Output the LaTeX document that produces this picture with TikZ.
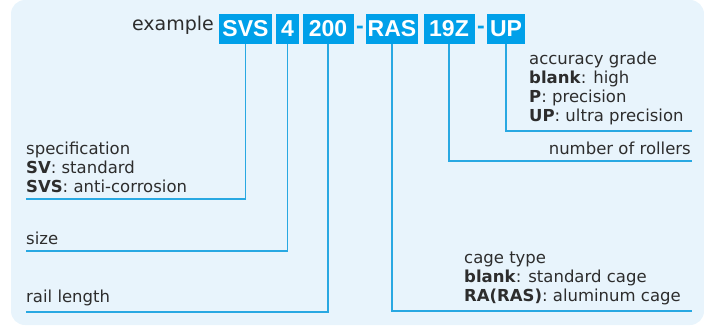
\documentclass[tikz,border=0pt]{standalone}
\usepackage{fontspec}
\setmainfont{DejaVu Sans}
\newfontfamily\codefont{Liberation Sans}
\usetikzlibrary{positioning}

\definecolor{codeblue}{RGB}{0,160,233}
\definecolor{leadblue}{RGB}{40,168,226}
\definecolor{panel}{RGB}{232,244,252}
\definecolor{ink}{RGB}{45,45,45}

\tikzset{
  code/.style={fill=codeblue,text=white,font=\codefont\bfseries\fontsize{23}{23}\selectfont,
    minimum height=30pt,inner sep=0pt},
  hyph/.style={text=codeblue,font=\codefont\bfseries\fontsize{23}{23}\selectfont,inner sep=0pt},
  lead/.style={draw=leadblue,line width=1.3pt},
  note/.style={text=ink,font=\fontsize{16.5}{19}\selectfont,align=left,inner sep=0pt}
}

\begin{document}
\begin{tikzpicture}[x=1pt,y=-1pt]
  \useasboundingbox (0,0) rectangle (704,326);
  \fill[panel,rounded corners=14pt] (11,0) rectangle (704,325);

  % part number
  \node[text=ink,font=\fontsize{19}{19}\selectfont,anchor=base east,inner sep=0pt] (ex) at (214,31) {example};
  \node[code,minimum width=53pt] (svs) at (245.5,29) {SVS};
  \node[code,minimum width=23pt] (four) at (287.5,29) {4};
  \node[code,minimum width=51pt] (len) at (328,29) {200};
  \node[hyph] (h1) at (360,30) {-};
  \node[code,minimum width=52pt] (ras) at (392,29) {RAS};
  \node[code,minimum width=51pt] (num) at (449,29) {19Z};
  \node[hyph] (h2) at (481,30) {-};
  \node[code,minimum width=38pt] (up) at (506,29) {UP};

  % leader ends
  \coordinate (specend) at (26,199);
  \coordinate (sizeend) at (26,251);
  \coordinate (railend) at (26,312);
  \coordinate (cageend) at (692,311);
  \coordinate (rollend) at (692,161);
  \coordinate (gradeend) at (692,131);

  \draw[lead] (svs.south) |- (specend);
  \draw[lead] (four.south) |- (sizeend);
  \draw[lead] (len.south) |- (railend);
  \draw[lead] (ras.south) |- (cageend);
  \draw[lead] (num.south) |- (rollend);
  \draw[lead] (up.south) |- (gradeend);

  % notes
  \node[note,above right=6pt and 0pt of specend] (spec) {specification\\\textbf{SV}: standard\\\textbf{SVS}: anti-corrosion};
  \node[note,above right=6pt and 0pt of sizeend] (size) {size};
  \node[note,above right=6pt and 0pt of railend] (rail) {rail length};
  \node[note,anchor=south west] (cage) at (464,305) {cage type\\\textbf{blank}: standard cage\\\textbf{RA(RAS)}: aluminum cage};
  \node[note,above left=6pt and 1pt of rollend] (roll) {number of rollers};
  \node[note,anchor=south west] (grade) at (529,125) {accuracy grade\\\textbf{blank}: high\\\textbf{P}: precision\\\textbf{UP}: ultra precision};
\end{tikzpicture}
\end{document}
